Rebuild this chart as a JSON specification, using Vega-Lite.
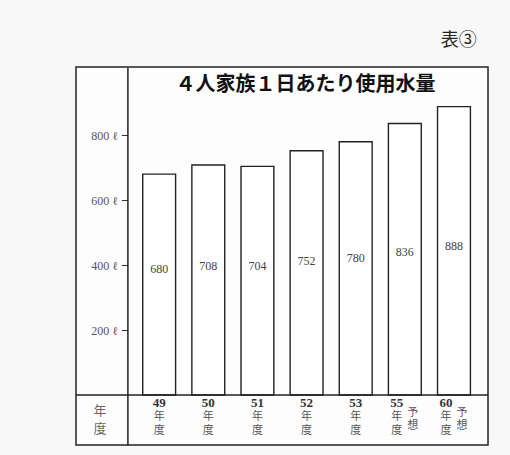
{
  "$schema": "https://vega.github.io/schema/vega-lite/v6.json",
  "width": 412,
  "height": 378,
  "autosize": "none",
  "padding": {"left": 76, "top": 67, "right": 22, "bottom": 10},
  "background": "#f8f8f8",
  "title": {"text": "表③", "anchor": "end", "orient": "top", "offset": 17, "dx": -12, "fontSize": 18, "font": "Noto Sans CJK JP", "fontWeight": "normal", "color": "#222"},
  "config": {"view": {"stroke": "#222", "strokeWidth": 1.5, "fill": "#fdfdfd"}},
  "data": {"values": [
    {"year": "49", "value": 680, "num": "49", "note": null},
    {"year": "50", "value": 708, "num": "50", "note": null},
    {"year": "51", "value": 704, "num": "51", "note": null},
    {"year": "52", "value": 752, "num": "52", "note": null},
    {"year": "53", "value": 780, "num": "53", "note": null},
    {"year": "55", "value": 836, "num": "55", "note": "予想"},
    {"year": "60", "value": 888, "num": "60", "note": "予想"}
  ]},
  "layer": [
    {
      "mark": {"type": "bar", "fill": "white", "stroke": "#222", "strokeWidth": 1.4},
      "encoding": {
        "x": {"field": "year", "type": "nominal", "sort": null, "axis": null,
              "scale": {"domain": ["年度", "49", "50", "51", "52", "53", "55", "60"], "paddingInner": 0.331, "paddingOuter": 0.358}},
        "y": {"field": "value", "type": "quantitative",
              "scale": {"domain": [-154, 1010], "nice": false, "zero": false},
              "axis": {"orient": "left", "offset": -51.4, "values": [200, 400, 600, 800], "labelExpr": "datum.value + ' ℓ'",
                       "title": null, "grid": false, "domainColor": "#222", "domainWidth": 1.5, "tickColor": "#333", "tickSize": 6, "tickWidth": 1,
                       "labelFont": "Liberation Serif", "labelFontSize": 12, "labelColor": "#555", "labelPadding": 4}},
        "y2": {"datum": 0}
      }
    },
    {
      "data": {"values": [{}]},
      "mark": {"type": "rule", "color": "#222", "strokeWidth": 1.5},
      "encoding": {"y": {"datum": 0, "type": "quantitative", "scale": {"domain": [-154, 1010], "nice": false, "zero": false}}}
    },
    {
      "transform": [{"calculate": "datum.value * 0.33 + 165", "as": "labelPos"}],
      "mark": {"type": "text", "font": "Liberation Serif", "fontSize": 12, "color": "#444", "baseline": "middle"},
      "encoding": {
        "x": {"field": "year", "type": "nominal", "sort": null, "scale": {"domain": ["年度", "49", "50", "51", "52", "53", "55", "60"], "paddingInner": 0.331, "paddingOuter": 0.358}},
        "y": {"field": "labelPos", "type": "quantitative", "scale": {"domain": [-154, 1010], "nice": false, "zero": false}},
        "text": {"field": "value"}
      }
    },
    {
      "transform": [{"filter": "datum.note == null"}],
      "mark": {"type": "text", "font": "Liberation Serif", "fontWeight": "bold", "fontSize": 13, "color": "#333", "baseline": "middle"},
      "encoding": {
        "x": {"field": "year", "type": "nominal", "sort": null, "scale": {"domain": ["年度", "49", "50", "51", "52", "53", "55", "60"], "paddingInner": 0.331, "paddingOuter": 0.358}},
        "y": {"datum": -24, "type": "quantitative", "scale": {"domain": [-154, 1010], "nice": false, "zero": false}},
        "text": {"field": "num"}
      }
    },
    {
      "transform": [{"filter": "datum.note == null"}],
      "mark": {"type": "text", "font": "Noto Sans CJK JP", "fontSize": 11, "color": "#555", "baseline": "middle", "text": "年"},
      "encoding": {
        "x": {"field": "year", "type": "nominal", "sort": null, "scale": {"domain": ["年度", "49", "50", "51", "52", "53", "55", "60"], "paddingInner": 0.331, "paddingOuter": 0.358}},
        "y": {"datum": -69, "type": "quantitative", "scale": {"domain": [-154, 1010], "nice": false, "zero": false}}
      }
    },
    {
      "transform": [{"filter": "datum.note == null"}],
      "mark": {"type": "text", "font": "Noto Sans CJK JP", "fontSize": 11, "color": "#555", "baseline": "middle", "text": "度"},
      "encoding": {
        "x": {"field": "year", "type": "nominal", "sort": null, "scale": {"domain": ["年度", "49", "50", "51", "52", "53", "55", "60"], "paddingInner": 0.331, "paddingOuter": 0.358}},
        "y": {"datum": -112, "type": "quantitative", "scale": {"domain": [-154, 1010], "nice": false, "zero": false}}
      }
    },
    {
      "transform": [{"filter": "datum.note != null"}],
      "mark": {"type": "text", "font": "Liberation Serif", "fontWeight": "bold", "fontSize": 13, "color": "#333", "baseline": "middle", "dx": -8},
      "encoding": {
        "x": {"field": "year", "type": "nominal", "sort": null, "scale": {"domain": ["年度", "49", "50", "51", "52", "53", "55", "60"], "paddingInner": 0.331, "paddingOuter": 0.358}},
        "y": {"datum": -24, "type": "quantitative", "scale": {"domain": [-154, 1010], "nice": false, "zero": false}},
        "text": {"field": "num"}
      }
    },
    {
      "transform": [{"filter": "datum.note != null"}],
      "mark": {"type": "text", "font": "Noto Sans CJK JP", "fontSize": 11, "color": "#555", "baseline": "middle", "dx": -8, "text": "年"},
      "encoding": {
        "x": {"field": "year", "type": "nominal", "sort": null, "scale": {"domain": ["年度", "49", "50", "51", "52", "53", "55", "60"], "paddingInner": 0.331, "paddingOuter": 0.358}},
        "y": {"datum": -69, "type": "quantitative", "scale": {"domain": [-154, 1010], "nice": false, "zero": false}}
      }
    },
    {
      "transform": [{"filter": "datum.note != null"}],
      "mark": {"type": "text", "font": "Noto Sans CJK JP", "fontSize": 11, "color": "#555", "baseline": "middle", "dx": -8, "text": "度"},
      "encoding": {
        "x": {"field": "year", "type": "nominal", "sort": null, "scale": {"domain": ["年度", "49", "50", "51", "52", "53", "55", "60"], "paddingInner": 0.331, "paddingOuter": 0.358}},
        "y": {"datum": -112, "type": "quantitative", "scale": {"domain": [-154, 1010], "nice": false, "zero": false}}
      }
    },
    {
      "transform": [{"filter": "datum.note != null"}],
      "mark": {"type": "text", "font": "Noto Sans CJK JP", "fontSize": 11, "color": "#555", "baseline": "middle", "dx": 8, "text": "予"},
      "encoding": {
        "x": {"field": "year", "type": "nominal", "sort": null, "scale": {"domain": ["年度", "49", "50", "51", "52", "53", "55", "60"], "paddingInner": 0.331, "paddingOuter": 0.358}},
        "y": {"datum": -54, "type": "quantitative", "scale": {"domain": [-154, 1010], "nice": false, "zero": false}}
      }
    },
    {
      "transform": [{"filter": "datum.note != null"}],
      "mark": {"type": "text", "font": "Noto Sans CJK JP", "fontSize": 11, "color": "#555", "baseline": "middle", "dx": 8, "text": "想"},
      "encoding": {
        "x": {"field": "year", "type": "nominal", "sort": null, "scale": {"domain": ["年度", "49", "50", "51", "52", "53", "55", "60"], "paddingInner": 0.331, "paddingOuter": 0.358}},
        "y": {"datum": -97, "type": "quantitative", "scale": {"domain": [-154, 1010], "nice": false, "zero": false}}
      }
    },
    {
      "data": {"values": [{"label": "年\n度"}]},
      "mark": {"type": "text", "font": "Noto Sans CJK JP", "fontSize": 13, "color": "#666", "baseline": "top", "lineHeight": 18, "dx": -10, "lineBreak": "\n"},
      "encoding": {
        "x": {"datum": "年度", "type": "nominal", "scale": {"domain": ["年度", "49", "50", "51", "52", "53", "55", "60"], "paddingInner": 0.331, "paddingOuter": 0.358}},
        "y": {"datum": -31, "type": "quantitative", "scale": {"domain": [-154, 1010], "nice": false, "zero": false}},
        "text": {"field": "label"}
      }
    },
    {
      "data": {"values": [{"label": "４人家族１日あたり使用水量"}]},
      "mark": {"type": "text", "font": "Noto Sans CJK JP", "fontSize": 20, "fontWeight": "bold", "color": "#111", "baseline": "middle", "dx": -1},
      "encoding": {
        "x": {"datum": "52", "type": "nominal", "scale": {"domain": ["年度", "49", "50", "51", "52", "53", "55", "60"], "paddingInner": 0.331, "paddingOuter": 0.358}},
        "y": {"datum": 955, "type": "quantitative", "scale": {"domain": [-154, 1010], "nice": false, "zero": false}},
        "text": {"field": "label"}
      }
    }
  ]
}
